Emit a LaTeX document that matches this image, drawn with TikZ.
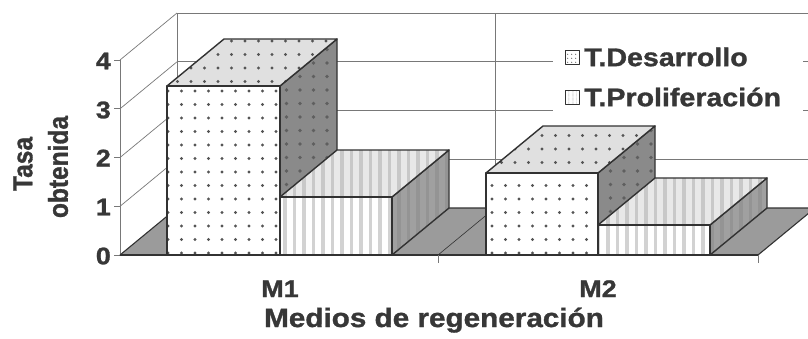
\documentclass[tikz,border=0pt]{standalone}
\usepackage{fontspec}
\setmainfont{Liberation Sans}
\newfontfamily\widefont{Liberation Sans}[FakeStretch=1.12,FakeBold=1.2]
\newfontfamily\plainfont{Liberation Sans}[FakeBold=1.2]
\usetikzlibrary{patterns.meta}
\definecolor{edgec}{RGB}{50,50,50}
\definecolor{gridc}{RGB}{120,120,120}
\definecolor{txtc}{RGB}{55,55,55}
\definecolor{floorc}{RGB}{155,155,155}
\definecolor{dotc}{RGB}{85,85,85}
\definecolor{dtopc}{RGB}{224,224,224}
\definecolor{dsidec}{RGB}{138,138,138}
\definecolor{dsidedot}{RGB}{95,95,95}
\definecolor{pstripe}{RGB}{210,210,210}
\definecolor{ptopc}{RGB}{232,232,232}
\definecolor{ptopstripe}{RGB}{200,200,200}
\definecolor{psidec}{RGB}{160,160,160}
\definecolor{psidestripe}{RGB}{148,148,148}
\tikzset{
  edge/.style={draw=edgec, line width=1.4pt, line join=round},
  gridline/.style={draw=gridc, line width=0.7pt},
  dfront/.style={edge, preaction={fill=white}, preaction={pattern={Dots[distance=13.5pt,radius=1.7pt,xshift=6pt,yshift=4pt]}, pattern color=dotc}},
  dtop/.style={edge, preaction={fill=dtopc}, preaction={pattern={Dots[distance=13.5pt,radius=1.7pt,xshift=2pt]}, pattern color=dotc}},
  dside/.style={edge, preaction={fill=dsidec}, preaction={pattern={Dots[distance=13.5pt,radius=1.8pt,xshift=3pt,yshift=5pt]}, pattern color=dsidedot}},
  pfront/.style={edge, preaction={fill=white}, preaction={pattern={Lines[angle=90,distance=9.5pt,line width=3.2pt]}, pattern color=pstripe}},
  ptop/.style={edge, preaction={fill=ptopc}, preaction={pattern={Lines[angle=90,distance=9.5pt,line width=3.2pt]}, pattern color=ptopstripe}},
  pside/.style={edge, preaction={fill=psidec}, preaction={pattern={Lines[angle=90,distance=9.5pt,line width=3.2pt]}, pattern color=psidestripe}},
  floorsty/.style={draw=edgec, line width=1.1pt, fill=floorc, line join=round},
  ticklab/.style={inner sep=0pt, text=txtc, font=\widefont\bfseries\fontsize{24}{28}\selectfont},
  catlab/.style={inner sep=0pt, text=txtc, font=\widefont\bfseries\fontsize{24}{28}\selectfont},
  titlelab/.style={inner sep=0pt, text=txtc, font=\widefont\bfseries\fontsize{26.5}{30}\selectfont},
  leglab/.style={inner sep=0pt, text=txtc, font=\widefont\bfseries\fontsize{25.5}{30}\selectfont},
  ylab/.style={inner sep=0pt, text=txtc, rotate=90, font=\plainfont\bfseries\fontsize{24.5}{28}\selectfont},
}
\newcommand{\drawbar}[6]{%
  \path[#6] (#2,255) -- (#2+57,208) -- (#2+57,#3-47) -- (#2,#3) -- cycle;
  \path[#5] (#1,#3) -- (#1+57,#3-47) -- (#2+57,#3-47) -- (#2,#3) -- cycle;
  \path[#4] (#1,255) rectangle (#2,#3);
}
\begin{document}
\begin{tikzpicture}[x=1pt,y=-1pt]
\useasboundingbox (0,0) rectangle (808,338);
\clip (0,0) rectangle (808,338);
\fill[white] (0,0) rectangle (808,338);
% back wall
\fill[white] (177,13) rectangle (815,208);
\foreach \yy in {13,61.8,110.5,159.3} \draw[gridline] (177,\yy) -- (815,\yy);
\draw[gridline] (177,13) -- (177,208);
\draw[gridline] (495,13) -- (495,208);
% left wall gridlines
\foreach \yy in {60,108.8,157.5,206.3} {
  \draw[gridline] (120,\yy) -- (177,\yy-47);
  \draw[gridline] (114,\yy) -- (120,\yy);
}
\draw[gridline] (114,255) -- (120,255);
\draw[gridline] (120,60) -- (120,255);
% floor
\path[floorsty] (120,255) -- (177,208) -- (815,208) -- (758,255) -- cycle;
\draw[draw=edgec, line width=0.6pt] (438,255) -- (495,208);
% bars
\drawbar{167}{280}{86}{dfront}{dtop}{dside}
\drawbar{280}{392}{197}{pfront}{ptop}{pside}
\drawbar{486}{598}{173}{dfront}{dtop}{dside}
\drawbar{598}{710}{225}{pfront}{ptop}{pside}
% category axis
\draw[draw=edgec, line width=1.1pt] (120,255) -- (758,255);
\draw[gridline] (438,255) -- (438,263);
\draw[gridline] (758,255) -- (758,263);
% legend
\fill[white] (553,30) rectangle (803,118);
\path[edge, line width=1pt, preaction={fill=white}, preaction={pattern={Dots[distance=4pt,radius=0.7pt]}, pattern color=dotc}] (565,50) rectangle (579,64);
\path[edge, line width=1pt, preaction={fill=white}, preaction={pattern={Lines[angle=90,distance=4pt,line width=1.3pt]}, pattern color=pstripe}] (565,90) rectangle (579,104);
\node[leglab, anchor=west] (legd) at (584,57) {T.Desarrollo};
\node[leglab, anchor=west] (legp) at (584,97) {T.Proliferación};
% tick labels
\node[ticklab, anchor=east] (t0) at (111,256) {0};
\node[ticklab, anchor=east] (t1) at (111,207) {1};
\node[ticklab, anchor=east] (t2) at (111,158) {2};
\node[ticklab, anchor=east] (t3) at (111,110) {3};
\node[ticklab, anchor=east] (t4) at (111,61) {4};
% category labels
\node[catlab, anchor=base] (m1) at (280,297) {M1};
\node[catlab, anchor=base] (m2) at (598,297) {M2};
\node[titlelab, anchor=base] (xt) at (434,327) {Medios de regeneración};
% y title
\node[ylab] (yt1) at (23,164) {\scalebox{1}[1.12]{Tasa}};
\node[ylab] (yt2) at (58,167) {\scalebox{1}[1.12]{obtenida}};
\end{tikzpicture}
\end{document}
